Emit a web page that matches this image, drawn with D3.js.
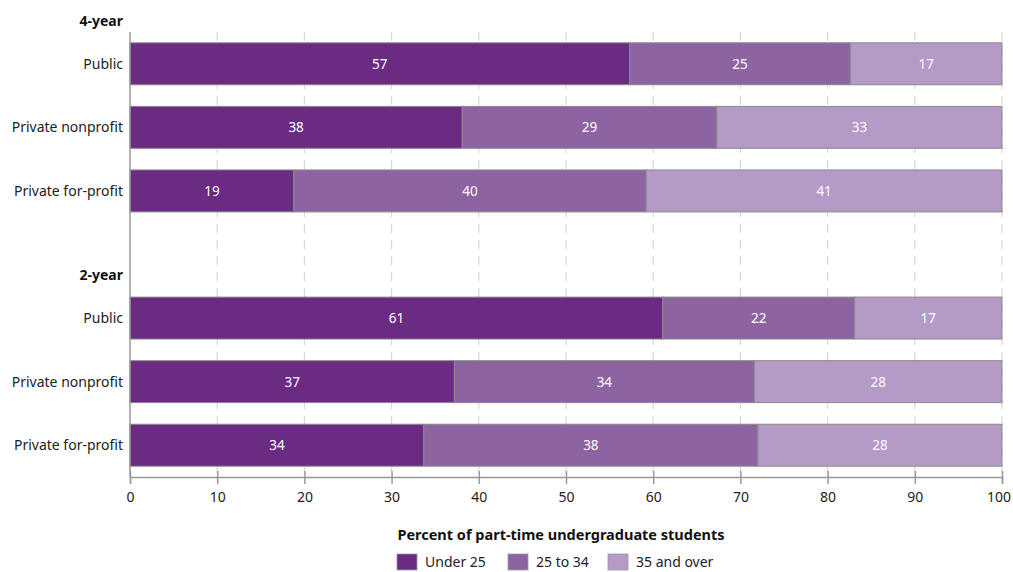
<!DOCTYPE html>
<html>
<head>
<meta charset="utf-8">
<script src="https://cdn.jsdelivr.net/npm/d3@7"></script>
<style>
  body { margin: 0; background: #fff; }
  text { font-family: "Noto Sans", "DejaVu Sans", sans-serif; }
</style>
</head>
<body>
<div id="chart"></div>
<script>
// chart data
var groups = ["4-year", "2-year"];
var sectors = ["Public", "Private nonprofit", "Private for-profit"];
var seriesNames = ["Under 25", "25 to 34", "35 and over"];
var colors = ["#6b2b83", "#8d64a1", "#b49ac6"];

// values per group, rows = sectors
var under25 = [57.3, 38.1, 18.8, 61.1, 37.2, 33.7];
var age25to34 = [25.3, 29.2, 40.4, 22.0, 34.4, 38.3];
var age35plus = [17.4, 32.7, 40.8, 16.9, 28.4, 28.0];
var xTicks = [0, 10, 20, 30, 40, 50, 60, 70, 80, 90, 100];

var width = 1013;
var height = 572;

var svg = d3.select("#chart")
    .append("svg")
    .attr("width", width)
    .attr("height", height);

// rows: 3 bars, spacer, 3 bars
var rows = [];
groups.forEach(function(g, gi) {
    if (gi > 0) rows.push({ key: "spacer" + gi, spacer: true });
    sectors.forEach(function(s, si) {
        var i = gi * sectors.length + si;
        rows.push({ key: g + "|" + s, group: g, sector: s, first: si == 0,
                    values: [under25[i], age25to34[i], age35plus[i]] });
    });
});

var x = d3.scaleLinear().domain([0, 100]).range([130, 1002]);
var y = d3.scaleBand()
    .domain(rows.map(function(d) { return d.key; }))
    .range([32, 477])
    .paddingInner(0.34)
    .paddingOuter(0.17);

// dashed grid lines
svg.append("g")
    .selectAll("line")
    .data(xTicks.slice(1))
    .enter()
    .append("line")
    .attr("x1", function(d) { return x(d); })
    .attr("x2", function(d) { return x(d); })
    .attr("y1", 32)
    .attr("y2", 477)
    .attr("stroke", "#d9d9d9")
    .attr("stroke-width", 1.2)
    .attr("stroke-dasharray", "9,7");

var barRows = rows.filter(function(d) { return !d.spacer; });

// stacked segments
var segs = [];
barRows.forEach(function(r) {
    var acc = 0;
    r.values.forEach(function(v, k) {
        segs.push({ row: r, k: k, x0: acc, x1: acc + v, v: v });
        acc += v;
    });
});

svg.append("g")
    .selectAll("rect")
    .data(segs)
    .enter()
    .append("rect")
    .attr("x", function(d) { return x(d.x0); })
    .attr("y", function(d) { return y(d.row.key); })
    .attr("width", function(d) { return x(d.x1) - x(d.x0); })
    .attr("height", y.bandwidth())
    .attr("fill", function(d) { return colors[d.k]; })
    .attr("stroke", "#8a8a8a")
    .attr("stroke-width", 1);

svg.append("g")
    .selectAll("text")
    .data(segs)
    .enter()
    .append("text")
    .attr("x", function(d) { return (x(d.x0) + x(d.x1)) / 2; })
    .attr("y", function(d) { return y(d.row.key) + y.bandwidth() / 2; })
    .attr("dy", "0.36em")
    .attr("text-anchor", "middle")
    .attr("font-size", "13.5px")
    .attr("fill", "#fff")
    .text(function(d) { return d3.format(".0f")(d.v); });

// row labels
svg.append("g")
    .selectAll("text")
    .data(barRows)
    .enter()
    .append("text")
    .attr("x", 123)
    .attr("y", function(d) { return y(d.key) + y.bandwidth() / 2; })
    .attr("dy", "0.36em")
    .attr("text-anchor", "end")
    .attr("font-size", "14px")
    .attr("fill", "#222")
    .text(function(d) { return d.sector; });

// group headers
svg.append("g")
    .selectAll("text")
    .data(barRows.filter(function(d) { return d.first; }))
    .enter()
    .append("text")
    .attr("x", 123)
    .attr("y", function(d) { return y(d.key) - 22; })
    .attr("dy", "0.36em")
    .attr("text-anchor", "end")
    .attr("font-size", "14px")
    .attr("font-weight", "bold")
    .attr("fill", "#111")
    .text(function(d) { return d.group; });

// left axis line
svg.append("line")
    .attr("x1", x(0)).attr("x2", x(0))
    .attr("y1", 32).attr("y2", 477)
    .attr("stroke", "#999")
    .attr("stroke-width", 1.5);

// bottom axis
var xAxis = svg.append("g")
    .attr("transform", "translate(0,477)")
    .call(d3.axisBottom(x).tickValues(xTicks).tickSize(7).tickPadding(8));
xAxis.select(".domain").attr("stroke", "#999").attr("stroke-width", 1.5);
xAxis.selectAll(".tick line").attr("stroke", "#999").attr("stroke-width", 1.5).attr("y1", -6);
xAxis.selectAll(".tick text")
    .attr("font-size", "14px")
    .attr("fill", "#222")
    .attr("dx", function(d) { return d == 100 ? "-0.25em" : 0; })
    .style("font-family", "'Noto Sans', 'DejaVu Sans', sans-serif");

// axis title
svg.append("text")
    .attr("x", 561)
    .attr("y", 540)
    .attr("text-anchor", "middle")
    .attr("font-size", "14.5px")
    .attr("font-weight", "bold")
    .attr("fill", "#111")
    .text("Percent of part-time undergraduate students");

// legend
var legendX = [397, 508, 608];
var legend = svg.append("g")
    .selectAll("g")
    .data(seriesNames)
    .enter()
    .append("g")
    .attr("transform", function(d, i) { return "translate(" + legendX[i] + ",554)"; });

legend.append("rect")
    .attr("width", 20)
    .attr("height", 16)
    .attr("fill", function(d, i) { return colors[i]; })
    .attr("stroke", "#999")
    .attr("stroke-width", 0.8);

legend.append("text")
    .attr("x", 28)
    .attr("y", 8)
    .attr("dy", "0.36em")
    .attr("font-size", "14px")
    .attr("fill", "#222")
    .text(function(d) { return d; });
</script>
</body>
</html>
